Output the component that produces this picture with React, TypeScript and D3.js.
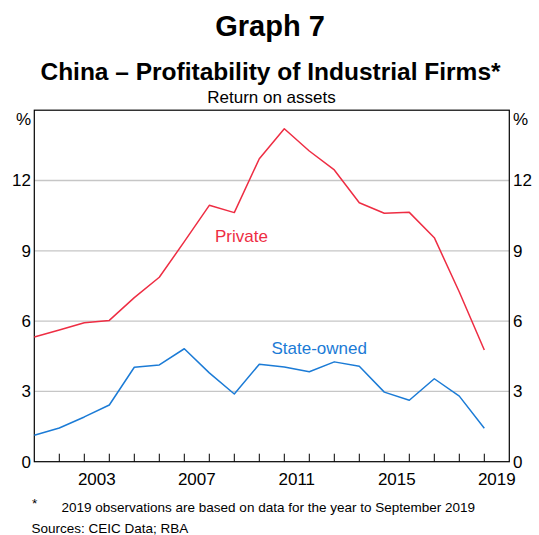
import React from "react";
import * as d3 from "d3";

const years = [2001, 2002, 2003, 2004, 2005, 2006, 2007, 2008, 2009, 2010, 2011, 2012, 2013, 2014, 2015, 2016, 2017, 2018, 2019];
const privateVals = [5.32, 5.62, 5.93, 6.03, 7.0, 7.87, 9.39, 10.94, 10.63, 12.93, 14.21, 13.26, 12.45, 11.05, 10.6, 10.64, 9.56, 7.24, 4.77];
const stateVals = [1.13, 1.44, 1.91, 2.42, 4.03, 4.13, 4.82, 3.79, 2.89, 4.16, 4.04, 3.84, 4.26, 4.07, 2.97, 2.62, 3.54, 2.8, 1.43];
const yTicks = [0, 3, 6, 9, 12];
const xLabels = [2003, 2007, 2011, 2015, 2019];

const W = 539;
const H = 535;
const left = 34.3;
const right = 509.3;
const top = 110.2;
const bottom = 461.7;
const RED = "#ee2d43";
const BLUE = "#1b7bd6";
const FONT = "Arial, 'Liberation Sans', Helvetica, sans-serif";

export default function App() {
  const x = d3.scaleLinear().domain([2001, 2020]).range([left, right]);
  const y = d3.scaleLinear().domain([0, 15]).range([bottom, top]);
  const line = d3
    .line<number>()
    .x((_, i) => x(years[i]))
    .y((d) => y(d));
  const tickYears = d3.range(2002, 2020);

  return (
    <svg
      width={W}
      height={H}
      style={{ position: "absolute", left: 0, top: 0, background: "#fff" }}
      fontFamily={FONT}
    >
      <rect x={0} y={0} width={W} height={H} fill="#fff" />
      <text x={270} y={36} textAnchor="middle" fontSize={29} fontWeight="bold" fill="#000">
        Graph 7
      </text>
      <text x={270.5} y={80} textAnchor="middle" fontSize={24.5} fontWeight="bold" fill="#000">
        China – Profitability of Industrial Firms*
      </text>
      <text x={271.5} y={103} textAnchor="middle" fontSize={17} fill="#000">
        Return on assets
      </text>

      {yTicks.filter((t) => t > 0).map((t) => (
        <line key={t} x1={left} x2={right} y1={y(t)} y2={y(t)} stroke="#c6c6c6" strokeWidth={1.3} />
      ))}

      {tickYears.map((yr) => (
        <line key={yr} x1={x(yr)} x2={x(yr)} y1={bottom} y2={bottom - 8} stroke="#000" strokeWidth={1} />
      ))}

      <rect x={left} y={top} width={right - left} height={bottom - top} fill="none" stroke="#000" strokeWidth={1.2} />

      {yTicks.map((t) => (
        <g key={t}>
          <text x={31} y={y(t)} dy="0.35em" textAnchor="end" fontSize={17} fill="#000">
            {t}
          </text>
          <text x={513} y={y(t)} dy="0.35em" textAnchor="start" fontSize={17} fill="#000">
            {t}
          </text>
        </g>
      ))}
      <text x={31} y={125} textAnchor="end" fontSize={17} fill="#000">%</text>
      <text x={513} y={125} textAnchor="start" fontSize={17} fill="#000">%</text>

      {xLabels.map((yr) => (
        <text key={yr} x={x(yr + 0.5)} y={485} textAnchor="middle" fontSize={17} fill="#000">
          {yr}
        </text>
      ))}

      <path d={line(privateVals) || ""} fill="none" stroke={RED} strokeWidth={1.5} strokeLinejoin="round" />
      <path d={line(stateVals) || ""} fill="none" stroke={BLUE} strokeWidth={1.5} strokeLinejoin="round" />

      <text x={215} y={242} fontSize={17} fill={RED}>Private</text>
      <text x={271.5} y={354} fontSize={17} fill={BLUE}>State-owned</text>

      <text x={32} y={508} fontSize={13.5} fill="#000">*</text>
      <text x={61.5} y={512} fontSize={13.5} fill="#000">
        2019 observations are based on data for the year to September 2019
      </text>
      <text x={31.5} y={533} fontSize={13.5} fill="#000">
        Sources: CEIC Data; RBA
      </text>
    </svg>
  );
}
